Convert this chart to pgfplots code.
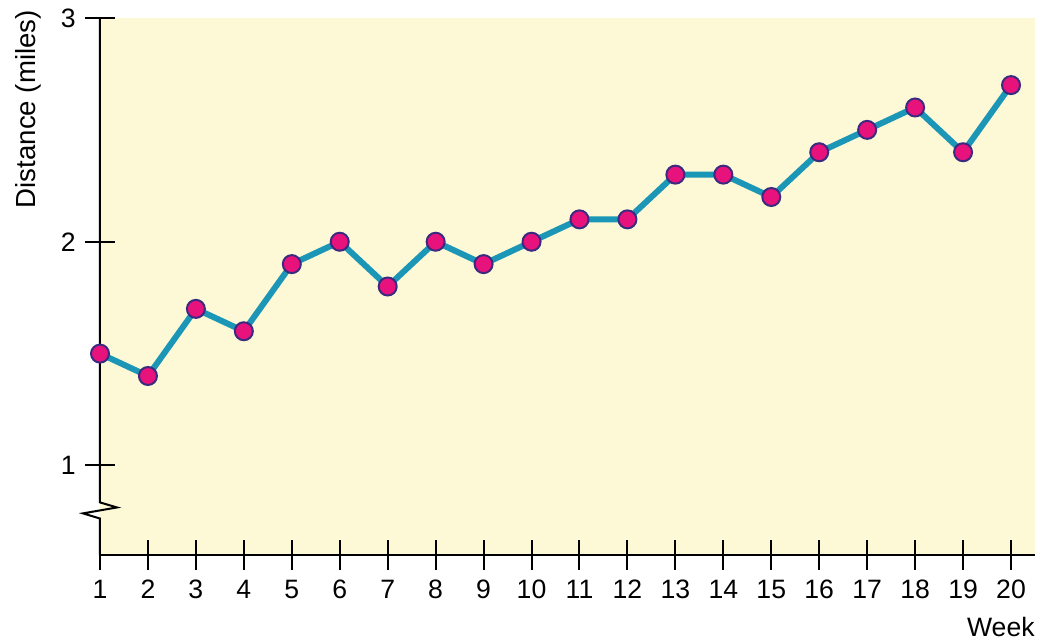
\documentclass[border=0pt]{standalone}
\usepackage{pgfplots}
\pgfplotsset{compat=1.18}
\usepackage{fontspec}
\setmainfont{Liberation Sans}
\definecolor{bgyellow}{HTML}{FDF9D6}
\definecolor{linecol}{HTML}{1B96B6}
\definecolor{markfill}{HTML}{E8127C}
\definecolor{markedge}{HTML}{3B2B80}
\begin{document}
\begin{tikzpicture}
\begin{axis}[
  at={(0,0)}, anchor=south west,
  scale only axis,
  width=467.5pt, height=268.5pt,
  xmin=1, xmax=20.5, ymin=0.6, ymax=3,
  axis x line=bottom, axis y line=left,
  x axis line style={-, line width=1pt},
  y axis line style={draw=none},
  axis background/.style={fill=bgyellow},
  xtick={1,...,20}, ytick={1,2,3},
  tick align=center,
  major tick length=15pt,
  every tick/.style={black, line width=1pt},
  /pgf/number format/assume math mode=true,
  tick label style={font=\fontsize{13.3}{15}\selectfont},
  xticklabel style={anchor=north, inner sep=0pt, yshift=-5pt},
  yticklabel style={anchor=east, inner sep=0pt, xshift=-4.5pt},
  xlabel={Week},
  xlabel style={at={(axis description cs:1,0)}, anchor=north east, inner sep=0pt, yshift=-31pt, font=\fontsize{13.3}{15}\selectfont},
  ylabel={Distance (miles)},
  ylabel style={at={(axis description cs:-0.077,1.015)}, rotate=0, anchor=east, inner sep=0pt, font=\fontsize{13.8}{15}\selectfont},
  clip=false,
]
\addplot[color=linecol, line width=3pt, mark=*, mark size=4.5pt,
  mark options={fill=markfill, draw=markedge, line width=1pt}]
  coordinates {
  (1,1.5) (2,1.4) (3,1.7) (4,1.6) (5,1.9) (6,2.0) (7,1.8) (8,2.0) (9,1.9) (10,2.0)
  (11,2.1) (12,2.1) (13,2.3) (14,2.3) (15,2.2) (16,2.4) (17,2.5) (18,2.6) (19,2.4) (20,2.7)
  };
\draw[black, line width=1pt] (axis cs:1,3) -- (axis cs:1,0.835)
  -- ([xshift=8.5pt]axis cs:1,0.8125) -- ([xshift=-8.5pt]axis cs:1,0.786)
  -- (axis cs:1,0.763) -- (axis cs:1,0.6);
\end{axis}
\pgfresetboundingbox
\path[use as bounding box] (-50pt,-43pt) rectangle (470pt,277.5pt);
\end{tikzpicture}
\end{document}
